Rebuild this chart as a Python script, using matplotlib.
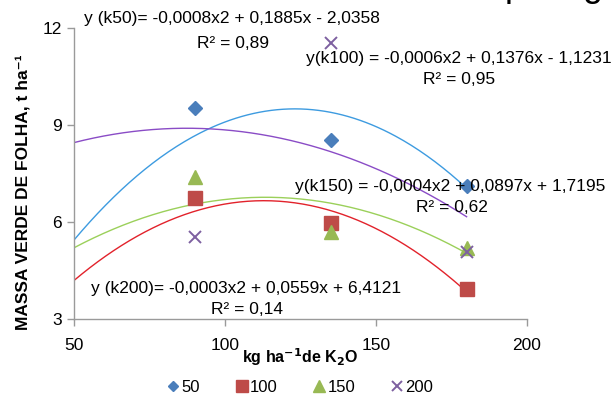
import numpy as np
import matplotlib
matplotlib.use("Agg")
import matplotlib.pyplot as plt

plt.rcParams['font.family'] = ['Liberation Sans', 'DejaVu Sans']

# ---- data ----
doses = [90, 135, 180]               # kg ha-1 de K2O
series_names = ['50', '100', '150', '200']
y_50 = [9.51, 8.53, 7.12]
y_100 = [6.73, 5.96, 3.93]
y_150 = [7.40, 5.70, 5.18]
y_200 = [5.52, 11.52, 5.06]

# trend curves (read at left edge, at peak, and at right end)
trend_blue_x = [50, 121.5, 180]
trend_blue_y = [5.44, 9.49, 7.04]
trend_purple_x = [50, 90.6, 180]
trend_purple_y = [8.45, 8.89, 6.16]
trend_green_x = [50, 111.6, 180]
trend_green_y = [5.20, 6.76, 5.03]
trend_red_x = [50, 110.0, 180]
trend_red_y = [4.19, 6.65, 3.84]

eq_texts = [
    ("y (k50)= -0,0008x2 + 0,1885x - 2,0358", "R² = 0,89"),
    ("y(k100) = -0,0006x2 + 0,1376x - 1,1231", "R² = 0,95"),
    ("y(k150) = -0,0004x2 + 0,0897x + 1,7195", "R² = 0,62"),
    ("y (k200)= -0,0003x2 + 0,0559x + 6,4121", "R² = 0,14"),
]

x_ticks = [50, 100, 150, 200]
y_ticks = [3, 6, 9, 12]

W, H = 611, 396
fig = plt.figure(figsize=(W / 100, H / 100), dpi=100)
ax = fig.add_axes([74 / W, 1 - 319 / H, (527 - 74) / W, (319 - 27.7) / H])

# trend lines
xs = np.linspace(50, 180, 200)
for tx, ty, c in [(trend_blue_x, trend_blue_y, '#3d9be0'),
                  (trend_purple_x, trend_purple_y, '#8a4cc6'),
                  (trend_green_x, trend_green_y, '#9bd05a'),
                  (trend_red_x, trend_red_y, '#e2222b')]:
    coef = np.polyfit(tx, ty, 2)
    ax.plot(xs, np.polyval(coef, xs), color=c, lw=1.0, zorder=2)

# markers
ax.plot(doses, y_50, ls='none', marker='D', ms=7.0, color='#4a7ebb', label=series_names[0], zorder=3)
ax.plot(doses, y_100, ls='none', marker='s', ms=10, color='#be4b48', label=series_names[1], zorder=3)
ax.plot(doses, y_150, ls='none', marker='^', ms=10, color='#98b954', label=series_names[2], zorder=3)
ax.plot(doses, y_200, ls='none', marker='x', ms=9, mew=1.4, color='#7d60a0', label=series_names[3], zorder=4)

ax.set_xlim(50, 200)
ax.set_ylim(3, 12)
ax.set_xticks(x_ticks)
ax.set_yticks(y_ticks)
ax.set_xticklabels([str(v) for v in x_ticks])
ax.set_yticklabels([str(v) for v in y_ticks])
for s in ['top', 'right']:
    ax.spines[s].set_visible(False)
for s in ['left', 'bottom']:
    ax.spines[s].set_color('#9a9a9a')
    ax.spines[s].set_linewidth(1.0)
ax.tick_params(axis='both', colors='#9a9a9a', labelcolor='black', labelsize=12.5, length=5, width=1.0)
ax.tick_params(axis='x', pad=9)
ax.tick_params(axis='y', pad=4)
ax.patch.set_alpha(0)

# axis labels
fig.text(23 / W, 1 - 192 / H, 'MASSA VERDE DE FOLHA, t ha⁻¹', rotation=90,
         ha='center', va='center', fontsize=12.5, fontweight='bold')
fig.text(300 / W, 1 - 357 / H, 'kg ha$^{\\mathbf{-}\\mathbf{1}}$de K$_{\\mathbf{2}}$O',
         ha='center', va='center', fontsize=11.5, fontweight='bold')

# equations
eq_pos = [((232, 19), (233, 44)),
          ((459, 59), (459, 79)),
          ((450, 186), (452, 207)),
          ((246, 289), (247, 310))]
for (t1, t2), ((x1, y1), (x2, y2)) in zip(eq_texts, eq_pos):
    fig.text(x1 / W, 1 - y1 / H, t1, ha='center', va='center', fontsize=12.5, zorder=5)
    fig.text(x2 / W, 1 - y2 / H, t2, ha='center', va='center', fontsize=12.5, zorder=5)

# cropped title at the very top (only its lowest part is visible)
fig.text(505 / W, 1 + 4 / H, 'pela g', ha='left', va='baseline', fontsize=26)

# legend
leg = fig.legend(loc='center', bbox_to_anchor=(299 / W, 1 - 387 / H), ncol=4, frameon=False,
                 fontsize=12, handletextpad=0.0, columnspacing=2.0, handlelength=1.0,
                 markerscale=0.8, borderaxespad=0)

fig.savefig('out.png', dpi=100)
